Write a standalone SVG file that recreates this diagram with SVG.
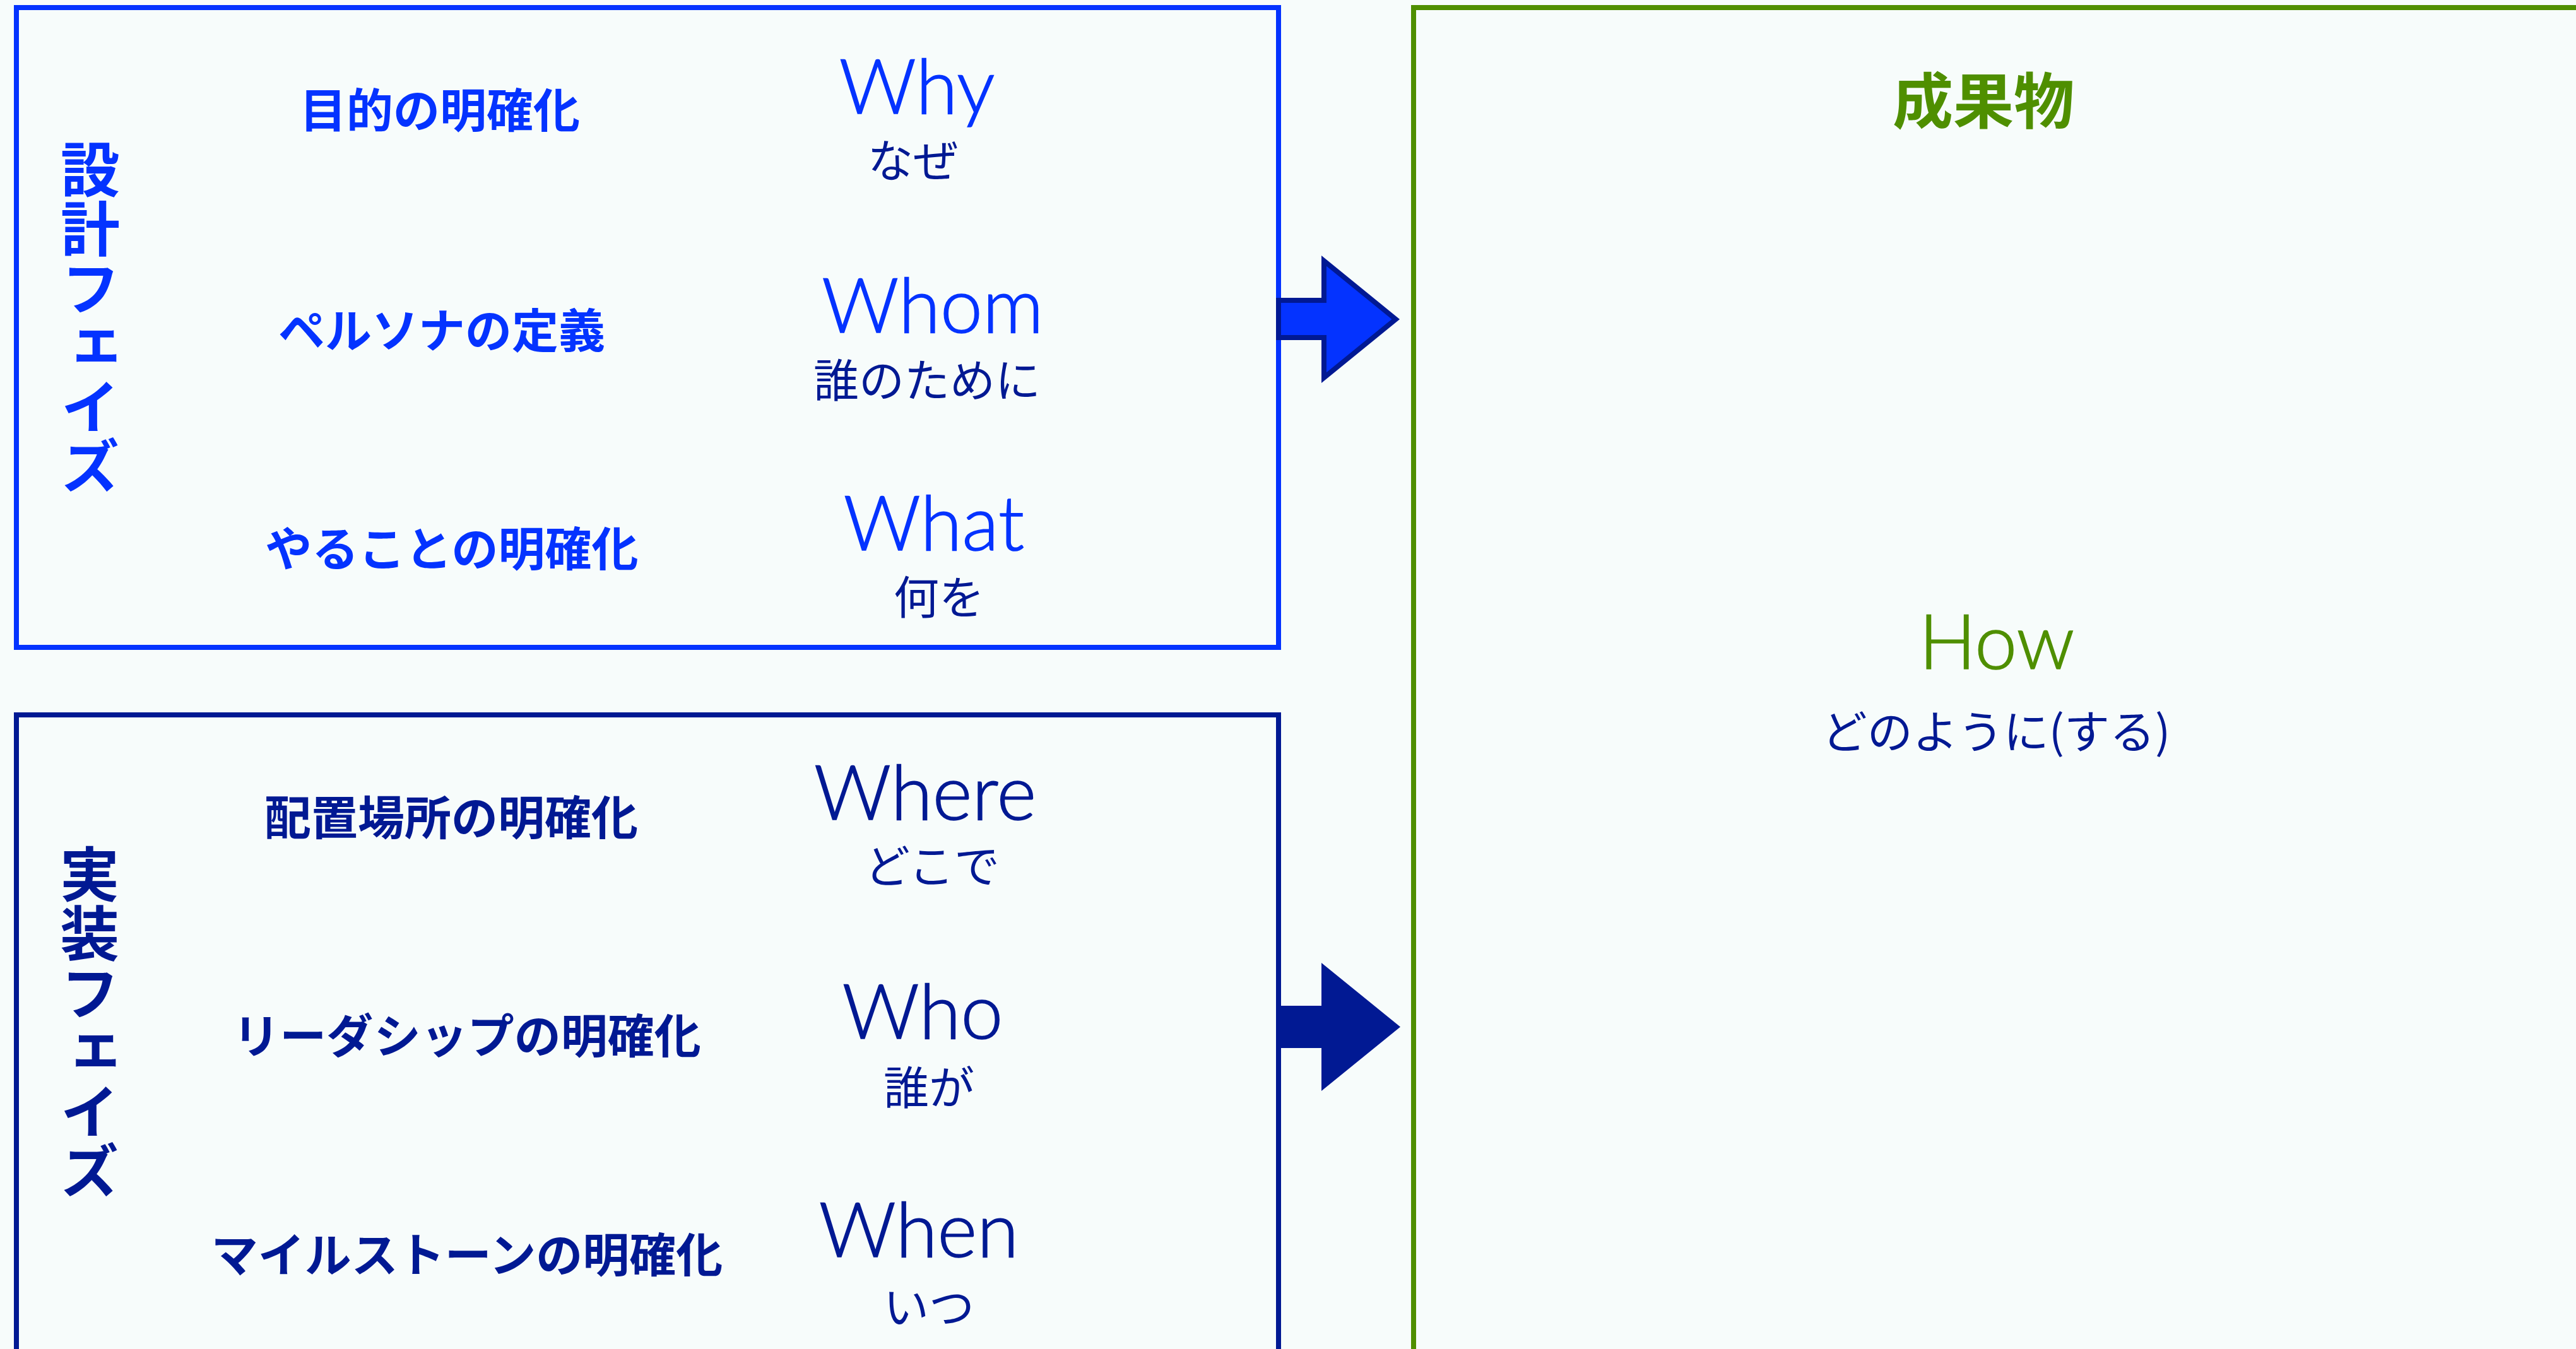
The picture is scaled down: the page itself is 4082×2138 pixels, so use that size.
<svg xmlns="http://www.w3.org/2000/svg" width="4082" height="2138" viewBox="0 0 4082 2138">
<style>
.bg{fill:#f7fcfb}
.box{fill:#f7fcfb;stroke-width:8}
.lbl{font-family:"Noto Sans CJK JP","Noto Sans CJK SC",sans-serif;font-weight:700;font-size:74px;text-anchor:middle}
.vert{font-family:"Noto Sans CJK JP","Noto Sans CJK SC",sans-serif;font-weight:700;font-size:94px;writing-mode:vertical-rl}
.en{font-family:Lato,"Liberation Sans",sans-serif;font-weight:300;font-size:120px;text-anchor:middle;stroke-width:1.6px}
.jp{font-family:"Noto Sans CJK JP","Noto Sans CJK SC",sans-serif;font-weight:400;font-size:72px;text-anchor:middle;fill:#011993}
.b1{fill:#0433ff}
.en.b1{stroke:#0433ff}
.b2{fill:#011993}
.en.b2{stroke:#011993}
.g{fill:#4f8f00}
.en.g{stroke:#4f8f00}
</style>
<rect class="bg" x="0" y="0" width="4082" height="2138"/>
<g id="design-phase">
<rect class="box" x="26" y="12" width="2000" height="1014" stroke="#0433ff"/>
<text class="vert b1" x="143" y="221">設計フェイズ</text>
<text class="lbl b1" x="697" y="202">目的の明確化</text>
<text class="lbl b1" x="700" y="551">ペルソナの定義</text>
<text class="lbl b1" x="716" y="897">やることの明確化</text>
<text class="en b1" x="1453" y="180">Why</text>
<text class="jp" x="1447" y="281">なぜ</text>
<text class="en b1" x="1478" y="527">Whom</text>
<text class="jp" x="1469" y="629">誰のために</text>
<text class="en b1" x="1480" y="872">What</text>
<text class="jp" x="1488" y="973">何を</text>
</g>
<g id="implementation-phase">
<rect class="box" x="26" y="1133" width="2000" height="1100" stroke="#011993"/>
<text class="vert b2" x="142" y="1338">実装フェイズ</text>
<text class="lbl b2" x="715" y="1323">配置場所の明確化</text>
<text class="lbl b2" x="740" y="1669">リーダシップの明確化</text>
<text class="lbl b2" x="740" y="2016">マイルストーンの明確化</text>
<text class="en b2" x="1466" y="1299">Where</text>
<text class="jp" x="1477" y="1399">どこで</text>
<text class="en b2" x="1462" y="1646">Who</text>
<text class="jp" x="1472" y="1750">誰が</text>
<text class="en b2" x="1456" y="1992">When</text>
<text class="jp" x="1472" y="2098">いつ</text>
</g>
<g id="deliverable">
<rect class="box" x="2240" y="12" width="2000" height="2200" stroke="#4f8f00"/>
<text class="lbl g" x="3143" y="195" style="font-size:96px">成果物</text>
<text class="en g" x="3164" y="1060">How</text>
<text class="jp" x="3163" y="1186">どのように(する)</text>
</g>
<g id="connectors">
<path d="M2026,476 H2098 V413.4 L2211.7,506 L2098,598.6 V535 H2026 Z" fill="#0433ff" stroke="#011993" stroke-width="8"/>
<path d="M2022,1594 H2094 V1526 L2219,1627.5 L2094,1729 V1661 H2022 Z" fill="#011993"/>
</g>
</svg>
